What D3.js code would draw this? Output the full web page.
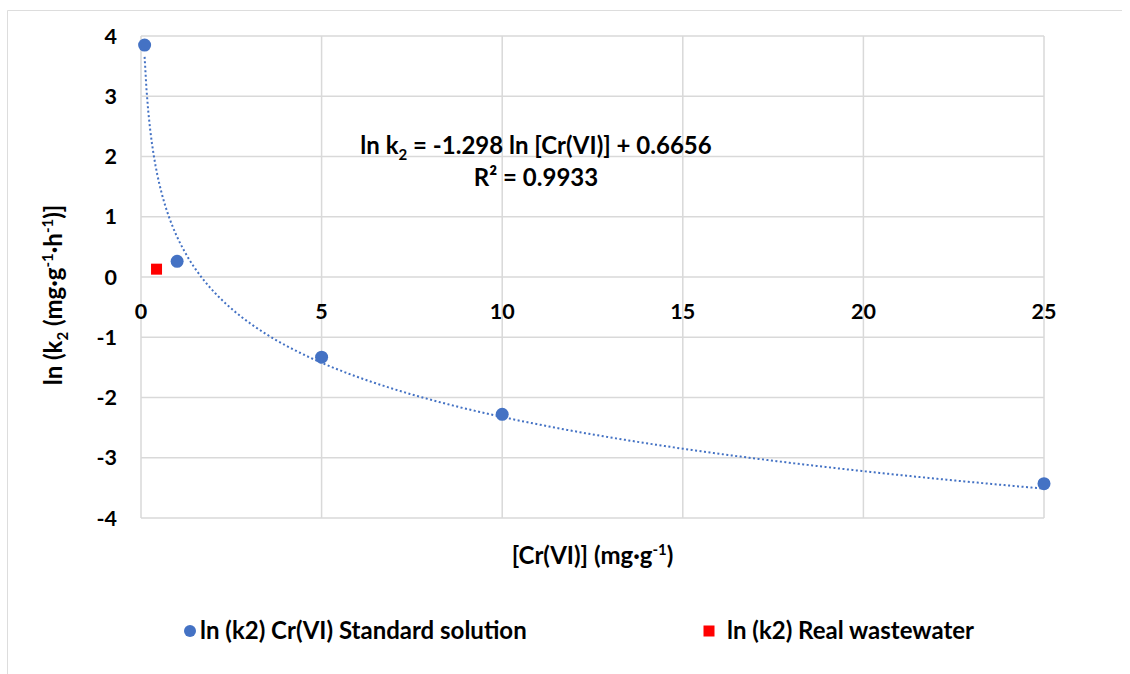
<!DOCTYPE html>
<html>
<head>
<meta charset="utf-8">
<script src="https://cdn.jsdelivr.net/npm/d3@7"></script>
<style>
  body { margin: 0; background: white; }
  text { font-family: Lato, "Open Sans", sans-serif; font-weight: bold; fill: #000; }
</style>
</head>
<body>
<script>
// data
const stdX = [0.1, 1, 5, 10, 25]
const stdY = [3.85, 0.26, -1.33, -2.28, -3.43]
const realX = [0.43]
const realY = [0.13]
const xTicks = [0, 5, 10, 15, 20, 25]
const yTicks = [4, 3, 2, 1, 0, -1, -2, -3, -4]
// trend line coefficients (from the printed equation)
const slope = -1.298
const intercept = 0.6656

const W = 1130, H = 674
const c = {
    blue:  "#4472C4",
    red:   "#FF0000",
    grid:  "#D9D9D9",
    frame: "#DDDDDD",
}
const fs = 24      // titles, equation, legend
const fsTick = 21.5

const svg = d3.select("body").append("svg")
    .attr("width", W)
    .attr("height", H)

// outer chart frame: only the top and left edges show in the picture
svg.append("path")
    .attr("d", "M7.5,674V10.5H1122")
    .attr("fill", "none")
    .attr("stroke", c.frame)
    .attr("stroke-width", 1)

const x = d3.scaleLinear().domain([0, 25]).range([141, 1044])
const y = d3.scaleLinear().domain([-4, 4]).range([518, 36])

// gridlines
const g = svg.append("g")
g.selectAll("line.h")
    .data(yTicks)
    .join("line")
        .attr("class", "h")
        .attr("x1", x(0)).attr("x2", x(25))
        .attr("y1", d => y(d)).attr("y2", d => y(d))
        .attr("stroke", c.grid).attr("stroke-width", 1.5)
g.selectAll("line.v")
    .data(xTicks)
    .join("line")
        .attr("class", "v")
        .attr("x1", d => x(d)).attr("x2", d => x(d))
        .attr("y1", y(4)).attr("y2", y(-4))
        .attr("stroke", c.grid).attr("stroke-width", 1.5)

// y tick labels
g.selectAll("text.yt")
    .data(yTicks)
    .join("text")
        .attr("class", "yt")
        .attr("x", 117)
        .attr("y", d => y(d) + 7.5)
        .attr("text-anchor", "end")
        .attr("font-size", fsTick)
        .text(d => d)

// x tick labels sit just under the zero line
g.selectAll("text.xt")
    .data(xTicks)
    .join("text")
        .attr("class", "xt")
        .attr("x", d => x(d))
        .attr("y", y(0) + 42)
        .attr("text-anchor", "middle")
        .attr("font-size", fsTick)
        .text(d => d)

// trend line
const trend = d3.range(0.1, 25.001, 0.05).map(v => [v, slope * Math.log(v) + intercept])
svg.append("path")
    .datum(trend)
    .attr("fill", "none")
    .attr("stroke", c.blue)
    .attr("stroke-width", 2)
    .attr("stroke-dasharray", "2 2.5")
    .attr("d", d3.line().x(d => x(d[0])).y(d => y(d[1])))

// points
svg.append("g")
    .selectAll("circle")
    .data(stdX.map((v, i) => [v, stdY[i]]))
    .join("circle")
        .attr("cx", d => x(d[0]))
        .attr("cy", d => y(d[1]))
        .attr("r", 6.5)
        .attr("fill", c.blue)

svg.append("g")
    .selectAll("rect")
    .data(realX.map((v, i) => [v, realY[i]]))
    .join("rect")
        .attr("x", d => x(d[0]) - 5.5)
        .attr("y", d => y(d[1]) - 5.5)
        .attr("width", 11).attr("height", 11)
        .attr("fill", c.red)

// equation
const eq = svg.append("text")
    .attr("x", 536).attr("y", 154)
    .attr("text-anchor", "middle")
    .attr("font-size", fs)
eq.append("tspan").text("ln k")
eq.append("tspan").attr("font-size", 15).attr("dy", 6).text("2")
eq.append("tspan").attr("dy", -6).text(" = -1.298 ln [Cr(VI)] + 0.6656")

svg.append("text")
    .attr("x", 536).attr("y", 186)
    .attr("text-anchor", "middle")
    .attr("font-size", fs)
    .text("R² = 0.9933")

// axis titles, centred on the plot
const xt = svg.append("text")
    .attr("x", (x(0) + x(25)) / 2).attr("y", 564)
    .attr("text-anchor", "middle")
    .attr("font-size", fs)
xt.append("tspan").text("[Cr(VI)] (mg·g")
xt.append("tspan").attr("font-size", 15).attr("dy", -9).text("-1")
xt.append("tspan").attr("dy", 9).text(")")

const yt = svg.append("text")
    .attr("transform", `translate(62,295) rotate(-90)`)
    .attr("text-anchor", "middle")
    .attr("font-size", fs)
yt.append("tspan").text("ln (k")
yt.append("tspan").attr("font-size", 15).attr("dy", 6).text("2")
yt.append("tspan").attr("dy", -6).text(" (mg·g")
yt.append("tspan").attr("font-size", 15).attr("dy", -9).text("-1")
yt.append("tspan").attr("dy", 9).text("·h")
yt.append("tspan").attr("font-size", 15).attr("dy", -9).text("-1")
yt.append("tspan").attr("dy", 9).text(")]")

// legend
const legend = [
    {name: "ln (k2) Cr(VI) Standard solution", color: c.blue, shape: "circle", x: 190},
    {name: "ln (k2) Real wastewater", color: c.red, shape: "square", x: 709},
]
const lg = svg.append("g")
    .selectAll("g")
    .data(legend)
    .join("g")
        .attr("transform", d => `translate(${d.x},631)`)
lg.filter(d => d.shape === "circle").append("circle")
    .attr("r", 6).attr("fill", d => d.color)
lg.filter(d => d.shape === "square").append("rect")
    .attr("x", -5.5).attr("y", -5.5).attr("width", 11).attr("height", 11)
    .attr("fill", d => d.color)
lg.append("text")
    .attr("x", d => d.shape === "circle" ? 10 : 18)
    .attr("y", 8)
    .attr("font-size", fs)
    .text(d => d.name)
</script>
</body>
</html>
